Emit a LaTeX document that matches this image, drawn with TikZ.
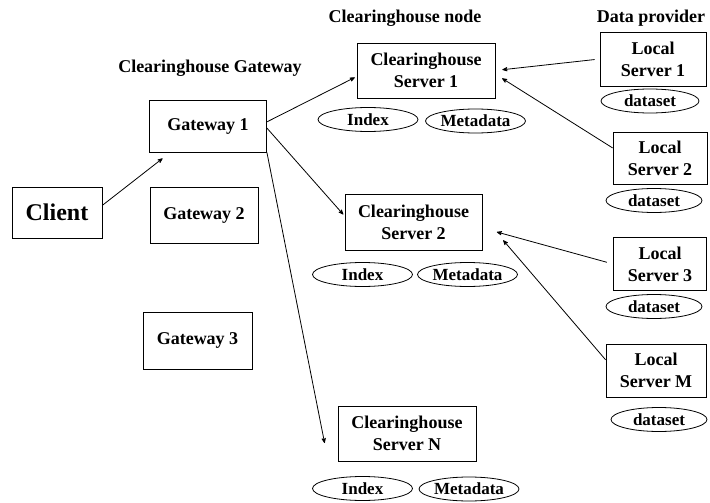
\documentclass[tikz,border=0pt]{standalone}
\usepackage{fontspec}
\setmainfont{Liberation Serif}
\usetikzlibrary{arrows,shapes.geometric}

\tikzset{
  box/.style={draw, align=center, inner sep=2pt,
    font=\fontsize{18}{22}\selectfont\bfseries},
  store/.style={draw, ellipse, inner sep=0pt, minimum width=100pt,
    minimum height=24pt, font=\fontsize{17}{20}\selectfont\bfseries},
  title/.style={font=\fontsize{18}{22}\selectfont\bfseries},
}

\begin{document}
\begin{tikzpicture}[x=1pt, y=-1pt, ->, >=stealth', line width=0.8pt]
    \useasboundingbox (0,0) rectangle (710,503);
    % column titles
    \node[title] (tgw) at (210,68)  {Clearinghouse Gateway};
    \node[title] (tch) at (405,18)  {Clearinghouse node};
    \node[title] (tdp) at (651,18)  {Data provider};
    % client and gateways
    \node[box, minimum width=90pt, minimum height=51pt,
          font=\fontsize{24}{28}\selectfont\bfseries] (client) at (57,212.5) {Client};
    \node[box, minimum width=117pt, minimum height=52pt] (gw1) at (208,126)     {Gateway 1};
    \node[box, minimum width=108pt, minimum height=56pt] (gw2) at (204,215)     {Gateway 2};
    \node[box, minimum width=109pt, minimum height=57pt] (gw3) at (197.5,340.5) {Gateway 3};
    % clearinghouse servers
    \node[box, minimum width=138pt, minimum height=55pt] (chs1) at (426,70.5)  {Clearinghouse\\Server 1};
    \node[box, minimum width=137pt, minimum height=56pt] (chs2) at (413.5,222) {Clearinghouse\\Server 2};
    \node[box, minimum width=138pt, minimum height=55pt] (chsN) at (407,433.5) {Clearinghouse\\Server N};
    \node[store] (idx1)  at (368,119.5)   {Index};
    \node[store] (meta1) at (475.5,121)   {Metadata};
    \node[store] (idx2)  at (362.5,274.5) {Index};
    \node[store] (meta2) at (467.5,274.5) {Metadata};
    \node[store] (idxN)  at (362.5,488.5) {Index};
    \node[store] (metaN) at (469,489)     {Metadata};
    % data providers
    \node[box, minimum width=106pt, minimum height=54pt] (ls1) at (653,59)    {Local\\Server 1};
    \node[box, minimum width=94pt,  minimum height=52pt] (ls2) at (660,158)   {Local\\Server 2};
    \node[box, minimum width=93pt,  minimum height=53pt] (ls3) at (660,264)   {Local\\Server 3};
    \node[box, minimum width=100pt, minimum height=53pt] (lsM) at (656,370.5) {Local\\Server M};
    \node[store, minimum width=98pt] (ds1) at (650,101)   {dataset};
    \node[store, minimum width=96pt] (ds2) at (654,200.5) {dataset};
    \node[store, minimum width=96pt] (ds3) at (654,306.5) {dataset};
    \node[store, minimum width=96pt] (dsM) at (659,419.5) {dataset};
    % requests
    \draw[shorten >=9.8pt] (client.9.5) -- (gw1.215);
    \draw[shorten >=2pt]   (gw1.4)      -- (chs1.185.4);
    \draw[shorten >=2pt]   (gw1.358)    -- (chs2.175.8);
    \draw (gw1.south east) -- ([shift={(-13,9.5)}]chsN.west);
    % harvesting
    \draw[shorten <=5pt, shorten >=7pt]   (ls1.west) -- (chs1.east);
    \draw[shorten >=8pt]                  (ls2.168)  -- (chs1.357.5);
    \draw[shorten <=6.5pt, shorten >=15pt] (ls3.west) -- (chs2.355);
    \draw[shorten >=32pt]                 (lsM.168)  -- (chs2.5.4);
\end{tikzpicture}
\end{document}
